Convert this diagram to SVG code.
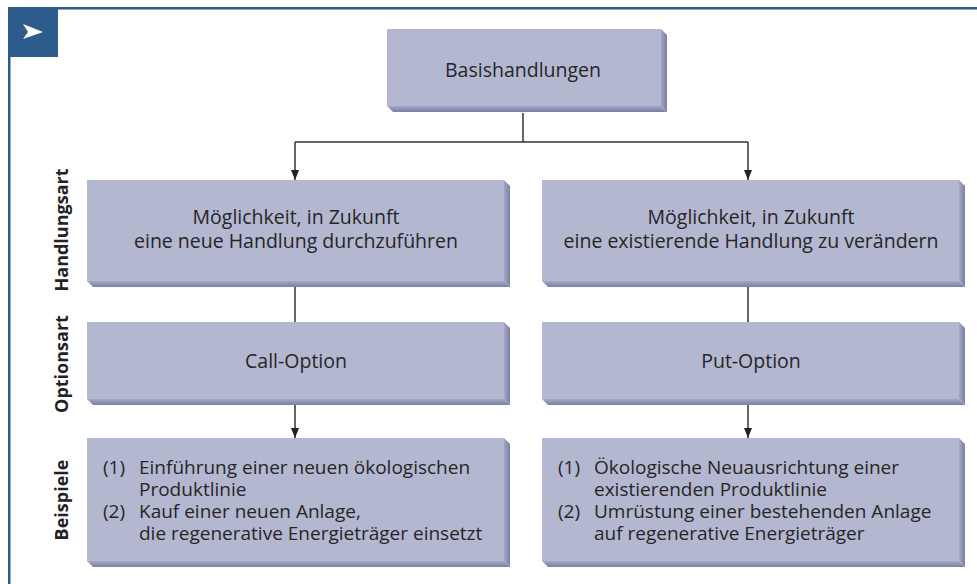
<svg xmlns="http://www.w3.org/2000/svg" width="977" height="584" viewBox="0 0 977 584">
<style>
.face{fill:#b4b7d0}
.sr{fill:url(#gr)}
.sb{fill:url(#gb)}
.t{font-family:"Open Sans","Noto Sans",sans-serif;font-size:19.5px;fill:#262626}
.s{font-size:19px}
.c{text-anchor:middle}
.side{font-family:"Open Sans","Noto Sans",sans-serif;font-size:18px;font-weight:bold;fill:#222;text-anchor:middle}
.ln{stroke:#333;stroke-width:1.5;fill:none}
</style>
<defs>
<linearGradient id="gr" x1="0" y1="0" x2="1" y2="0"><stop offset="0" stop-color="#a3a7c4"/><stop offset="1" stop-color="#7a80a5"/></linearGradient>
<linearGradient id="gb" x1="0" y1="0" x2="0" y2="1"><stop offset="0" stop-color="#a3a7c4"/><stop offset="1" stop-color="#7a80a5"/></linearGradient>
<marker id="ah" viewBox="0 0 10 10" refX="10" refY="5" markerWidth="10" markerHeight="10" markerUnits="userSpaceOnUse" orient="auto"><path d="M0,1 L10,5 L0,9 Z" fill="#222"/></marker>
</defs>
<rect width="977" height="584" fill="#fff"/>
<g id="frame">
<rect x="58" y="7" width="919" height="2" fill="#2d5b8c"/>
<rect x="58" y="9" width="919" height="1" fill="#8aa3c6"/>
<rect x="8" y="57" width="2.5" height="527" fill="#2d5b8c"/>
<rect x="8" y="7" width="50" height="50" fill="#2d5b8c"/>
<polygon points="23,24 43,32 23,39 28,32" fill="#fff"/>
</g>
<g id="connectors">
<line class="ln" x1="523" y1="113" x2="523" y2="142"/>
<line class="ln" x1="295" y1="142" x2="748" y2="142"/>
<line class="ln" x1="295" y1="142" x2="295" y2="180" marker-end="url(#ah)"/>
<line class="ln" x1="748" y1="142" x2="748" y2="180" marker-end="url(#ah)"/>
<line class="ln" x1="295" y1="287" x2="295" y2="322"/>
<line class="ln" x1="748" y1="287" x2="748" y2="322"/>
<line class="ln" x1="295" y1="405" x2="295" y2="438" marker-end="url(#ah)"/>
<line class="ln" x1="748" y1="405" x2="748" y2="438" marker-end="url(#ah)"/>
</g>
<g id="labels">
<text class="side" transform="translate(68,230) rotate(-90)">Handlungsart</text>
<text class="side" transform="translate(68,364) rotate(-90)">Optionsart</text>
<text class="side" transform="translate(68,500) rotate(-90)">Beispiele</text>
</g>
<g id="basis">
<polygon class="sr" points="661,29 667,35 667,112 661,106"/>
<polygon class="sb" points="387,106 661,106 667,112 393,112"/>
<rect class="face" x="387" y="29" width="274" height="77"/>
<text class="t c" x="523" y="77">Basishandlungen</text>
</g>
<g id="handlung-neu">
<polygon class="sr" points="504,180 510,186 510,287 504,281"/>
<polygon class="sb" points="87,281 504,281 510,287 93,287"/>
<rect class="face" x="87" y="180" width="417" height="101"/>
<text class="t c" x="296" y="224">Möglichkeit, in Zukunft</text>
<text class="t c" x="296" y="248">eine neue Handlung durchzuführen</text>
</g>
<g id="handlung-aendern">
<polygon class="sr" points="959,180 965,186 965,287 959,281"/>
<polygon class="sb" points="542,281 959,281 965,287 548,287"/>
<rect class="face" x="542" y="180" width="417" height="101"/>
<text class="t c" x="751" y="224">Möglichkeit, in Zukunft</text>
<text class="t c" x="751" y="248">eine existierende Handlung zu verändern</text>
</g>
<g id="call">
<polygon class="sr" points="504,322 510,328 510,405 504,399"/>
<polygon class="sb" points="87,399 504,399 510,405 93,405"/>
<rect class="face" x="87" y="322" width="417" height="77"/>
<text class="t c" x="296" y="368">Call-Option</text>
</g>
<g id="put">
<polygon class="sr" points="959,322 965,328 965,405 959,399"/>
<polygon class="sb" points="542,399 959,399 965,405 548,405"/>
<rect class="face" x="542" y="322" width="417" height="77"/>
<text class="t c" x="751" y="368">Put-Option</text>
</g>
<g id="bsp-call">
<polygon class="sr" points="504,438 510,444 510,567 504,561"/>
<polygon class="sb" points="87,561 504,561 510,567 93,567"/>
<rect class="face" x="87" y="438" width="417" height="123"/>
<text class="t s" x="103" y="474">(1)</text>
<text class="t s" x="139" y="474">Einführung einer neuen ökologischen</text>
<text class="t s" x="139" y="496">Produktlinie</text>
<text class="t s" x="103" y="518">(2)</text>
<text class="t s" x="139" y="518">Kauf einer neuen Anlage,</text>
<text class="t s" x="139" y="540">die regenerative Energieträger einsetzt</text>
</g>
<g id="bsp-put">
<polygon class="sr" points="959,438 965,444 965,567 959,561"/>
<polygon class="sb" points="542,561 959,561 965,567 548,567"/>
<rect class="face" x="542" y="438" width="417" height="123"/>
<text class="t s" x="558" y="474">(1)</text>
<text class="t s" x="594" y="474">Ökologische Neuausrichtung einer</text>
<text class="t s" x="594" y="496">existierenden Produktlinie</text>
<text class="t s" x="558" y="518">(2)</text>
<text class="t s" x="594" y="518">Umrüstung einer bestehenden Anlage</text>
<text class="t s" x="594" y="540">auf regenerative Energieträger</text>
</g>
</svg>
